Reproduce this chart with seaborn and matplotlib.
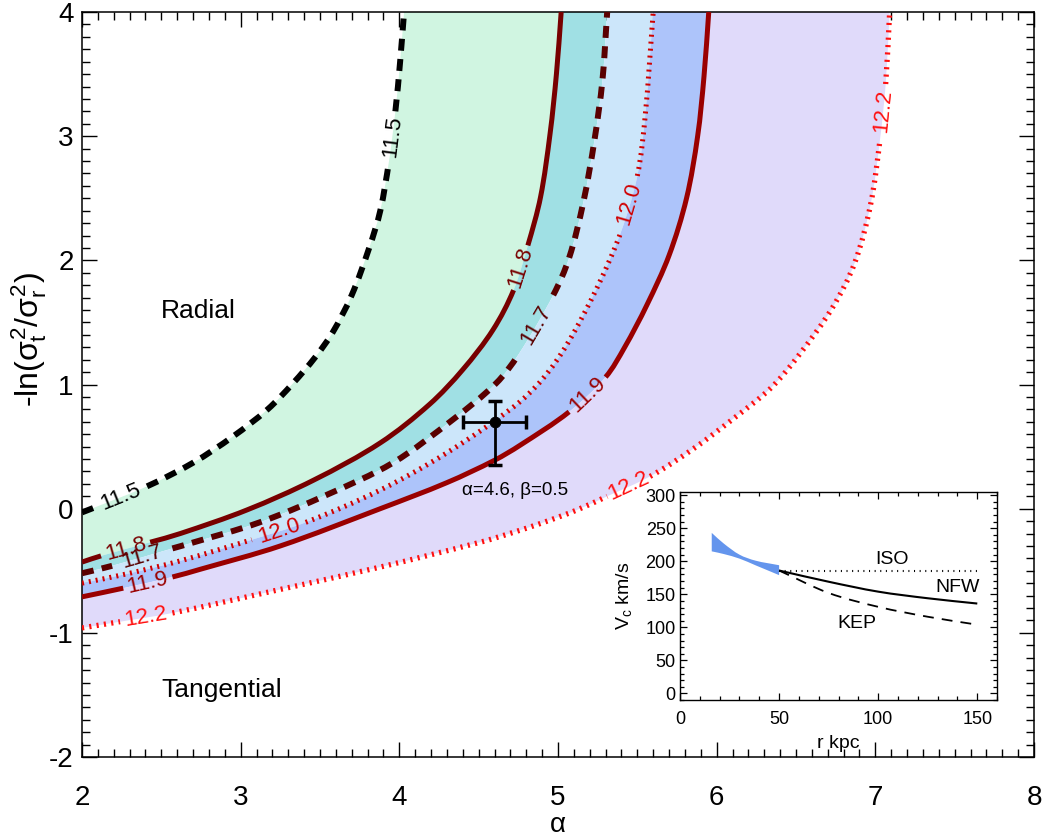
import numpy as np
import matplotlib
matplotlib.use("Agg")
import matplotlib.pyplot as plt
from matplotlib.ticker import MultipleLocator
from matplotlib.path import Path
from matplotlib.patches import PathPatch
import seaborn as sns

# ---------------- data ----------------
c115_x = [2.00, 2.08, 2.41, 2.70, 2.95, 3.17, 3.33, 3.47, 3.58, 3.70, 3.81, 3.88, 3.935, 3.975, 4.005, 4.03]
c115_y = [-0.03, 0.01, 0.18, 0.37, 0.58, 0.80, 1.01, 1.22, 1.42, 1.72, 2.10, 2.40, 2.80, 3.20, 3.60, 4.00]

c118_x = [2.00, 2.12, 2.43, 2.62, 3.04, 3.46, 3.88, 4.19, 4.40, 4.59, 4.72, 4.81, 4.89, 4.95, 4.99, 5.02]
c118_y = [-0.43, -0.38, -0.27, -0.20, -0.01, 0.23, 0.53, 0.84, 1.12, 1.44, 1.76, 2.12, 2.51, 3.02, 3.50, 4.00]

c117_x = [2.00, 2.19, 2.57, 2.68, 3.12, 3.54, 3.96, 4.34, 4.61, 4.75, 4.97, 5.07, 5.16, 5.23, 5.28, 5.31]
c117_y = [-0.52, -0.46, -0.32, -0.28, -0.11, 0.11, 0.37, 0.72, 1.01, 1.24, 1.72, 2.02, 2.47, 2.97, 3.45, 4.00]

c120_x = [2.00, 2.30, 2.62, 3.07, 3.41, 3.88, 4.30, 4.72, 4.90, 5.06, 5.25, 5.40, 5.50, 5.55, 5.60]
c120_y = [-0.60, -0.52, -0.42, -0.25, -0.11, 0.15, 0.45, 0.82, 1.04, 1.33, 1.79, 2.24, 2.68, 3.17, 4.00]

c119_x = [2.00, 2.26, 2.57, 2.74, 3.25, 3.88, 4.30, 4.60, 4.76, 5.07, 5.30, 5.42, 5.56, 5.70, 5.81, 5.88, 5.92, 5.95]
c119_y = [-0.71, -0.64, -0.55, -0.49, -0.30, 0.00, 0.21, 0.39, 0.51, 0.78, 1.06, 1.30, 1.64, 2.04, 2.50, 3.00, 3.48, 4.00]

c122_x = [2.00, 2.24, 2.57, 3.25, 3.88, 4.51, 4.72, 4.91, 5.12, 5.31, 5.58, 5.85, 6.10, 6.34, 6.52, 6.73, 6.87, 6.97, 7.03, 7.065, 7.09]
c122_y = [-0.96, -0.91, -0.84, -0.65, -0.47, -0.27, -0.19, -0.11, -0.01, 0.10, 0.26, 0.48, 0.72, 0.97, 1.24, 1.62, 1.98, 2.45, 2.98, 3.42, 4.00]

contour_levels = ["11.5", "11.8", "11.7", "12.0", "11.9", "12.2"]

point_alpha = [4.6]
point_y = [0.7]
point_xerr = 0.2
point_yerr_low = 0.35
point_yerr_high = 0.17

# inset: circular velocity
band_r = [16, 22, 30, 38, 50]
band_lo = [215, 211, 204, 194, 179]
band_hi = [243, 227, 210, 201, 194]
model_r = [50, 75, 100, 125, 150]
iso_v = [186, 186, 186, 186, 186]
nfw_v = [186, 169, 154, 144, 136]
kep_v = [186, 152, 131, 116, 104]

# ---------------- style ----------------
sns.set_theme(style="ticks")
FONT = ["Liberation Sans", "DejaVu Sans"]
plt.rcParams["font.family"] = FONT
plt.rcParams.update({
    "axes.edgecolor": "black", "text.color": "black", "axes.labelcolor": "black",
    "xtick.color": "black", "ytick.color": "black", "axes.unicode_minus": False,
    "mathtext.fontset": "custom", "mathtext.rm": "Liberation Sans",
    "mathtext.it": "Liberation Sans", "mathtext.bf": "Liberation Sans",
})


def bezier(xs, ys, a, b, sx, sy):
    """Smooth path (cubic Bezier) through points a..b of a curve."""
    P = np.column_stack([np.asarray(xs, float) * sx, np.asarray(ys, float) * sy])
    n = len(P)
    T = np.zeros_like(P)
    for i in range(n):
        if i == 0:
            d = P[1] - P[0]
        elif i == n - 1:
            d = P[-1] - P[-2]
        else:
            d = P[i + 1] - P[i - 1]
        T[i] = d / np.hypot(*d)
    verts = [P[a]]
    codes = [Path.MOVETO]
    for i in range(a, b):
        L = np.hypot(*(P[i + 1] - P[i])) / 3.0
        verts += [P[i] + T[i] * L, P[i + 1] - T[i + 1] * L, P[i + 1]]
        codes += [Path.CURVE4] * 3
    verts = np.array(verts) / np.array([sx, sy])
    return verts, codes


fig = plt.figure(figsize=(10.43, 8.39), dpi=100)
ax = fig.add_axes([0.0786, 0.0977, 0.9128, 0.888])
ax.set_xlim(2, 8)
ax.set_ylim(-2, 4)
SX, SY = 158.7, 124.2

curves = {
    "11.5": (c115_x, c115_y),
    "11.8": (c118_x, c118_y),
    "11.7": (c117_x, c117_y),
    "12.0": (c120_x, c120_y),
    "11.9": (c119_x, c119_y),
    "12.2": (c122_x, c122_y),
}
fills = [("11.5", "11.8", "#D0F5E1"), ("11.8", "11.7", "#A0E0E4"),
         ("11.7", "12.0", "#CCE6FA"), ("12.0", "11.9", "#ADC4FA"),
         ("11.9", "12.2", "#E0DAFA")]
for a, b, col in fills:
    xa, ya = curves[a]
    xb, yb = curves[b]
    va, ca = bezier(xa, ya, 0, len(xa) - 1, SX, SY)
    vb, cb = bezier(xb, yb, 0, len(xb) - 1, SX, SY)
    verts = np.vstack([va, vb[::-1], va[:1]])
    codes = ca + [Path.LINETO] + cb[1:] + [Path.CLOSEPOLY]
    ax.add_patch(PathPatch(Path(verts, codes), facecolor=col, edgecolor="none",
                           lw=0, zorder=1))

styles = {
    "11.5": dict(color="black", lw=4.3, ls=(0, (2.0, 1.4))),
    "11.8": dict(color="#780000", lw=3.6, ls="-"),
    "11.7": dict(color="#5A0000", lw=4.3, ls=(0, (2.0, 1.4))),
    "12.0": dict(color="#D00000", lw=3.6, ls=(0, (0.4, 1.0))),
    "11.9": dict(color="#9A0000", lw=3.6, ls="-"),
    "12.2": dict(color="#FF1010", lw=3.8, ls=(0, (0.4, 1.0))),
}
gaps = {"11.5": [1, 12], "11.8": [1, 10], "11.7": [1, 9],
        "12.0": [3, 11], "11.9": [1, 9], "12.2": [1, 9, 18]}

for lev in contour_levels:
    xs, ys = curves[lev]
    st = styles[lev]
    cuts = [-1] + gaps[lev] + [len(xs) - 1]
    for k in range(len(cuts) - 1):
        a, b = cuts[k] + 1, cuts[k + 1]
        v, c = bezier(xs, ys, a, b, SX, SY)
        ax.add_patch(PathPatch(Path(v, c), fill=False, edgecolor=st["color"],
                               lw=st["lw"], linestyle=st["ls"], capstyle="butt",
                               zorder=3))
    for g in gaps[lev]:
        p1 = ax.transData.transform((xs[g], ys[g]))
        p2 = ax.transData.transform((xs[g + 1], ys[g + 1]))
        ang = np.degrees(np.arctan2(p2[1] - p1[1], p2[0] - p1[0]))
        xm, ym = 0.5 * (xs[g] + xs[g + 1]), 0.5 * (ys[g] + ys[g + 1])
        ax.text(xm, ym, lev, rotation=ang, rotation_mode="anchor",
                ha="center", va="center", fontsize=16,
                color=st["color"], zorder=4)

ax.errorbar(point_alpha, point_y, xerr=[[point_xerr], [point_xerr]],
            yerr=[[point_yerr_low], [point_yerr_high]], fmt="none", ecolor="black",
            elinewidth=2, capsize=5, capthick=2.5, zorder=6)
sns.scatterplot(x=point_alpha, y=point_y, ax=ax, color="black", s=60,
                edgecolor="black", zorder=7)
ax.text(4.73, 0.15, "α=4.6, β=0.5", ha="center", va="center", fontsize=13.5,
        zorder=6)
ax.text(2.73, 1.59, "Radial", ha="center", va="center", fontsize=19)
ax.text(2.88, -1.46, "Tangential", ha="center", va="center", fontsize=19)

ax.xaxis.set_major_locator(MultipleLocator(1))
ax.xaxis.set_minor_locator(MultipleLocator(0.1))
ax.yaxis.set_major_locator(MultipleLocator(1))
ax.yaxis.set_minor_locator(MultipleLocator(0.1))
ax.tick_params(which="both", direction="in", top=True, right=True, width=1.0)
ax.tick_params(which="major", length=11)
ax.tick_params(which="minor", length=5.5)
ax.tick_params(axis="x", labelsize=20, pad=20)
ax.tick_params(axis="y", labelsize=20, pad=6)
for s in ax.spines.values():
    s.set_linewidth(1.1)
ax.set_xlabel("α", fontsize=20)
ax.xaxis.label.set_va("center")
ax.xaxis.set_label_coords(0.5, -0.091)
ax.set_ylabel(r"-ln($\sigma_\mathrm{t}^2/\sigma_\mathrm{r}^2$)", fontsize=23)
ax.yaxis.set_label_coords(-0.035, 0.56)

# ---------------- inset ----------------
ins = fig.add_axes([0.652, 0.1657, 0.304, 0.248], facecolor="white")
ins.set_zorder(10)
ins.set_xlim(0, 160)
ins.set_ylim(-10, 305)
ISX, ISY = 1.987, 0.66
vb_lo, cb_lo = bezier(band_r, band_lo, 0, len(band_r) - 1, ISX, ISY)
vb_hi, cb_hi = bezier(band_r, band_hi, 0, len(band_r) - 1, ISX, ISY)
ins.add_patch(PathPatch(Path(np.vstack([vb_lo, vb_hi[::-1], vb_lo[:1]]),
                             cb_lo + [Path.LINETO] + cb_hi[1:] + [Path.CLOSEPOLY]),
                        facecolor="#6495ED", edgecolor="none", lw=0))
sns.lineplot(x=model_r, y=iso_v, ax=ins, color="black", lw=1.5, sort=False, estimator=None)
ins.lines[-1].set_linestyle((0, (0.5, 2.2)))
v, c = bezier(model_r, nfw_v, 0, len(model_r) - 1, ISX, ISY)
ins.add_patch(PathPatch(Path(v, c), fill=False, edgecolor="black", lw=1.5))
v, c = bezier(model_r, kep_v, 0, len(model_r) - 1, ISX, ISY)
ins.add_patch(PathPatch(Path(v, c), fill=False, edgecolor="black", lw=1.3,
                        linestyle=(0, (6, 4.5))))
ins.text(107, 203, "ISO", ha="center", va="center", fontsize=14)
ins.text(140, 160, "NFW", ha="center", va="center", fontsize=14)
ins.text(89, 106, "KEP", ha="center", va="center", fontsize=14)
ins.xaxis.set_major_locator(MultipleLocator(50))
ins.xaxis.set_minor_locator(MultipleLocator(10))
ins.yaxis.set_major_locator(MultipleLocator(50))
ins.yaxis.set_minor_locator(MultipleLocator(10))
ins.tick_params(which="both", direction="in", top=True, right=True, width=0.9)
ins.tick_params(which="major", length=5)
ins.tick_params(which="minor", length=2.8)
ins.tick_params(axis="x", labelsize=13, pad=8)
ins.tick_params(axis="y", labelsize=13, pad=3)
for s in ins.spines.values():
    s.set_linewidth(1.0)
ins.set_xlabel("r kpc", fontsize=14)
ins.xaxis.label.set_va("center")
ins.xaxis.set_label_coords(0.5, -0.21)
ins.set_ylabel(r"V$_\mathrm{c}$ km/s", fontsize=14)
ins.yaxis.set_label_coords(-0.145, 0.5)

fig.savefig("out.png", dpi=100)
